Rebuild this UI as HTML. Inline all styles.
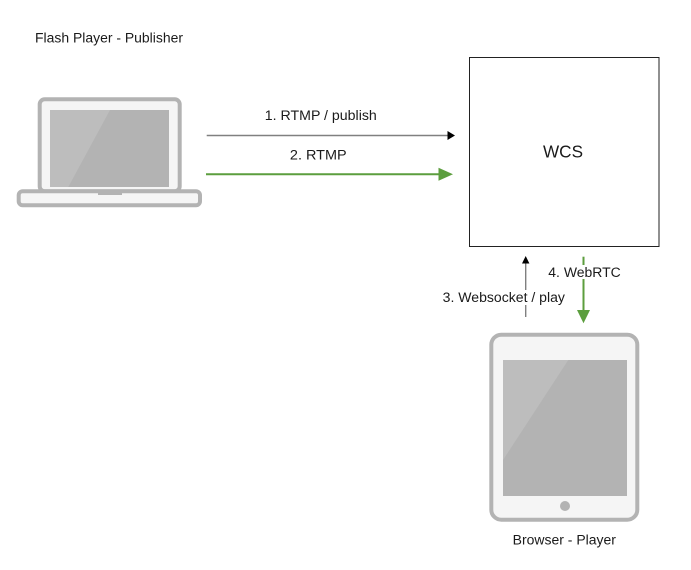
<!DOCTYPE html>
<html>
<head>
<meta charset="utf-8">
<style>
  html,body{margin:0;padding:0;background:#fff;}
  svg{display:block;}
  text{font-family:"Liberation Sans",Arial,sans-serif;fill:#1a1a1a;}
</style>
</head>
<body>
<svg width="691" height="570" viewBox="0 0 691 570" xmlns="http://www.w3.org/2000/svg">
  <rect x="0" y="0" width="691" height="570" fill="#fff"/>

  <!-- Title -->
  <text x="109" y="42.5" font-size="13.5" text-anchor="middle" textLength="148" lengthAdjust="spacingAndGlyphs">Flash Player - Publisher</text>

  <!-- Laptop -->
  <rect x="39.7" y="99.3" width="140" height="92" rx="5" fill="#f5f5f5" stroke="#b3b3b3" stroke-width="4"/>
  <rect x="50" y="110" width="119" height="77" fill="#b3b3b3"/>
  <polygon points="50,110 110,110 68.3,187 50,187" fill="#bdbdbd"/>
  <rect x="18.7" y="191.3" width="181.3" height="14" rx="4" fill="#f5f5f5" stroke="#b3b3b3" stroke-width="4"/>
  <rect x="98" y="191" width="24" height="4" fill="#b3b3b3"/>

  <!-- Arrow 1 -->
  <text x="320.8" y="120" font-size="13.5" text-anchor="middle" textLength="112" lengthAdjust="spacingAndGlyphs">1. RTMP / publish</text>
  <line x1="206.7" y1="135.5" x2="449" y2="135.5" stroke="#808080" stroke-width="1.4"/>
  <polygon points="447.5,131 455,135.5 447.5,140" fill="#000"/>

  <!-- Arrow 2 -->
  <text x="318.3" y="159.5" font-size="13.5" text-anchor="middle" textLength="56.7" lengthAdjust="spacingAndGlyphs">2. RTMP</text>
  <line x1="206" y1="174.3" x2="441" y2="174.3" stroke="#5c9e3e" stroke-width="2"/>
  <polygon points="438.5,167.8 453,174.3 438.5,180.8" fill="#5c9e3e"/>

  <!-- WCS box -->
  <rect x="469.5" y="57.5" width="189.5" height="189" fill="#fff" stroke="#222" stroke-width="1"/>
  <text x="563" y="157.7" font-size="17.5" text-anchor="middle" textLength="40" lengthAdjust="spacingAndGlyphs">WCS</text>

  <!-- Arrow 3 (up) -->
  <line x1="525.7" y1="317" x2="525.7" y2="262" stroke="#808080" stroke-width="1.4"/>
  <polygon points="522,263.5 525.7,256 529.4,263.5" fill="#000"/>
  <rect x="442" y="290" width="123" height="15" fill="#fff"/>
  <text x="503.8" y="302" font-size="13.5" text-anchor="middle" textLength="122.3" lengthAdjust="spacingAndGlyphs">3. Websocket / play</text>

  <!-- Arrow 4 (down, green) -->
  <line x1="583.5" y1="256.7" x2="583.5" y2="312" stroke="#5c9e3e" stroke-width="2"/>
  <polygon points="577,310 590,310 583.5,323.3" fill="#5c9e3e"/>
  <rect x="548" y="265" width="73" height="14" fill="#fff"/>
  <text x="584.5" y="276.8" font-size="13.5" text-anchor="middle" textLength="72.4" lengthAdjust="spacingAndGlyphs">4. WebRTC</text>

  <!-- Tablet -->
  <rect x="491.3" y="334.7" width="146" height="185" rx="10" fill="#f5f5f5" stroke="#b3b3b3" stroke-width="4"/>
  <rect x="503" y="360" width="124" height="136" fill="#b3b3b3"/>
  <polygon points="503,360 568.3,360 503,460" fill="#bdbdbd"/>
  <circle cx="565" cy="506" r="5" fill="#b3b3b3"/>

  <text x="564.3" y="544.5" font-size="13.5" text-anchor="middle" textLength="103.3" lengthAdjust="spacingAndGlyphs">Browser - Player</text>
</svg>
</body>
</html>
